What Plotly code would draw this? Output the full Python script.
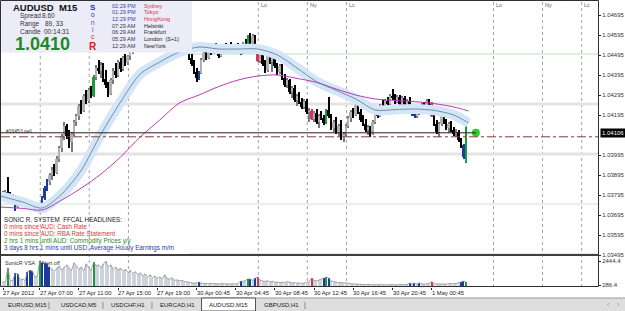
import plotly.graph_objects as go

FONT = "Liberation Sans"
W, H = 625, 311
PL, PR, PT, PB = 1, 598, 2, 287          # plot area in pixels
MAIN_BOTTOM, SUB_TOP = 255, 257
BAR_PX, FIRST_BAR_PX = 2.45, 3.0

BASE, POINT = 1.03, 1e-5                 # prices stored as points above 1.03000

# ---------------- data ----------------
opens = [800, 790, 810, 800, 780, 790, 735, 752, 748, 752,
         750, 742, 746, 740, 744, 722, 735, 780, 830, 860,
         895, 920, 905, 975, 1030, 1090, 1140, 1090, 1060, 1100,
         1160, 1190, 1240, 1215, 1290, 1265, 1320, 1290, 1385, 1430,
         1415, 1445, 1375, 1345, 1300, 1370, 1415, 1395, 1460, 1425,
         1480, 1455, 1490, 1515, 1560, 1580, 1570, 1610, 1595, 1580,
         1560, 1585, 1615, 1625, 1600, 1575, 1590, 1605, 1585, 1565,
         1580, 1570, 1550, 1565, 1545, 1530, 1515, 1480, 1450, 1410,
         1380, 1405, 1470, 1505, 1480, 1530, 1505, 1540, 1520, 1490,
         1525, 1540, 1515, 1535, 1525, 1510, 1540, 1515, 1505, 1550,
         1525, 1585, 1555, 1590, 1530, 1465, 1500, 1450, 1420, 1490,
         1460, 1480, 1440, 1410, 1440, 1380, 1345, 1370, 1310, 1330,
         1270, 1290, 1260, 1235, 1265, 1210, 1215, 1175, 1205, 1160,
         1190, 1180, 1155, 1218, 1190, 1130, 1160, 1110, 1140, 1080,
         1100, 1140, 1180, 1210, 1195, 1245, 1210, 1170, 1150, 1120,
         1135, 1100, 1160, 1200, 1190, 1240, 1230, 1265, 1250, 1290,
         1280, 1260, 1285, 1250, 1280, 1235, 1265, 1210, 1225, 1190,
         1205, 1220, 1245, 1235, 1265, 1255, 1190, 1150, 1110, 1150,
         1195, 1160, 1130, 1150, 1120, 1100, 1110, 1070, 1045, 985]
highs = [815, 820, 885, 810, 800, 795, 756, 758, 756, 758,
         754, 750, 750, 746, 748, 740, 790, 840, 875, 905,
         935, 950, 990, 1040, 1100, 1160, 1150, 1120, 1110, 1170,
         1200, 1250, 1270, 1300, 1320, 1330, 1340, 1395, 1445, 1470,
         1460, 1455, 1420, 1360, 1380, 1430, 1455, 1470, 1480, 1490,
         1500, 1495, 1530, 1570, 1590, 1600, 1620, 1630, 1615, 1600,
         1590, 1625, 1640, 1635, 1610, 1600, 1615, 1620, 1600, 1590,
         1600, 1585, 1575, 1580, 1560, 1545, 1520, 1500, 1470, 1430,
         1415, 1480, 1520, 1525, 1540, 1545, 1545, 1555, 1535, 1530,
         1550, 1555, 1545, 1560, 1540, 1545, 1555, 1525, 1560, 1575,
         1595, 1607, 1600, 1595, 1535, 1510, 1510, 1470, 1500, 1505,
         1490, 1500, 1455, 1450, 1450, 1400, 1380, 1375, 1340, 1345,
         1300, 1310, 1280, 1275, 1275, 1230, 1225, 1215, 1225, 1200,
         1215, 1195, 1225, 1285, 1200, 1170, 1185, 1150, 1170, 1110,
         1150, 1190, 1220, 1230, 1260, 1255, 1225, 1195, 1175, 1145,
         1140, 1170, 1210, 1230, 1250, 1270, 1275, 1285, 1300, 1325,
         1300, 1295, 1295, 1290, 1290, 1275, 1285, 1235, 1240, 1215,
         1230, 1255, 1260, 1275, 1275, 1262, 1200, 1170, 1160, 1205,
         1200, 1175, 1160, 1165, 1135, 1125, 1120, 1080, 1050, 1145]
lows = [775, 780, 790, 770, 760, 715, 732, 745, 744, 746,
        738, 736, 737, 734, 718, 705, 725, 770, 815, 845,
        870, 890, 900, 960, 1010, 1070, 1075, 1030, 1010, 1090,
        1140, 1170, 1200, 1210, 1250, 1255, 1280, 1285, 1370, 1400,
        1380, 1360, 1330, 1285, 1295, 1350, 1380, 1385, 1410, 1415,
        1440, 1445, 1470, 1500, 1540, 1555, 1560, 1585, 1570, 1550,
        1545, 1575, 1600, 1590, 1565, 1560, 1580, 1580, 1555, 1550,
        1565, 1540, 1535, 1540, 1520, 1505, 1470, 1440, 1400, 1360,
        1370, 1400, 1460, 1470, 1475, 1495, 1500, 1510, 1480, 1485,
        1515, 1505, 1505, 1520, 1500, 1505, 1510, 1495, 1500, 1515,
        1520, 1545, 1540, 1520, 1460, 1455, 1440, 1405, 1410, 1450,
        1410, 1430, 1395, 1400, 1370, 1335, 1330, 1300, 1280, 1260,
        1240, 1250, 1225, 1225, 1200, 1160, 1170, 1160, 1150, 1130,
        1170, 1145, 1150, 1180, 1120, 1110, 1100, 1090, 1070, 1060,
        1090, 1130, 1160, 1180, 1190, 1200, 1160, 1140, 1110, 1095,
        1085, 1095, 1150, 1180, 1185, 1220, 1225, 1240, 1245, 1270,
        1250, 1255, 1240, 1240, 1225, 1220, 1200, 1190, 1180, 1180,
        1195, 1215, 1225, 1230, 1240, 1185, 1140, 1100, 1085, 1140,
        1150, 1120, 1105, 1110, 1090, 1085, 1060, 1030, 975, 955]
closes = [790, 810, 800, 780, 790, 735, 752, 748, 752, 750,
          742, 746, 740, 744, 722, 735, 780, 830, 860, 895,
          920, 905, 975, 1030, 1090, 1140, 1090, 1060, 1100, 1160,
          1190, 1240, 1215, 1290, 1265, 1320, 1290, 1385, 1430, 1415,
          1445, 1375, 1345, 1300, 1370, 1415, 1395, 1460, 1425, 1480,
          1455, 1490, 1515, 1560, 1580, 1570, 1610, 1595, 1580, 1560,
          1585, 1615, 1625, 1600, 1575, 1590, 1605, 1585, 1565, 1580,
          1570, 1550, 1565, 1545, 1530, 1515, 1480, 1450, 1410, 1380,
          1405, 1470, 1505, 1480, 1530, 1505, 1540, 1520, 1490, 1525,
          1540, 1515, 1535, 1525, 1510, 1540, 1515, 1505, 1550, 1525,
          1585, 1555, 1590, 1530, 1465, 1500, 1450, 1420, 1490, 1460,
          1480, 1440, 1410, 1440, 1380, 1345, 1370, 1310, 1330, 1270,
          1290, 1260, 1235, 1265, 1210, 1215, 1175, 1205, 1160, 1190,
          1180, 1155, 1218, 1190, 1130, 1160, 1110, 1140, 1080, 1100,
          1140, 1180, 1210, 1195, 1245, 1210, 1170, 1150, 1120, 1135,
          1100, 1160, 1200, 1190, 1240, 1230, 1265, 1250, 1290, 1280,
          1260, 1285, 1250, 1280, 1235, 1265, 1210, 1225, 1190, 1205,
          1220, 1245, 1235, 1265, 1255, 1190, 1150, 1110, 1150, 1195,
          1160, 1130, 1150, 1120, 1100, 1110, 1070, 1045, 985, 1106]

candle_blue = [5, 15, 16, 17, 18, 80, 97, 167, 168, 170, 188]
candle_green = [37, 100, 132, 189]
candle_red = [104, 126, 175]

volume = [520, 600, 1800, 640, 700, 1350, 1300, 760, 820, 700,
          1500, 1600, 1550, 1000, 1100, 2450, 2300, 2250, 2200, 1900,
          1700, 1500, 1800, 2000, 1600, 1900, 2100, 1800, 1600, 2300,
          2000, 1700, 1900, 1500, 2200, 1800, 1600, 2350, 2000, 2100,
          1800, 2200, 2400, 1900, 2100, 1700, 1900, 1600, 1800, 1500,
          1700, 1400, 1600, 1300, 1500, 1200, 1400, 1100, 1300, 1000,
          1200, 950, 1100, 900, 1000, 850, 1200, 900, 800, 950,
          700, 750, 650, 700, 600, 550, 500, 480, 450, 470,
          560, 440, 420, 450, 400, 430, 390, 410, 380, 400,
          420, 370, 390, 360, 400, 380, 420, 650, 600, 700,
          850, 800, 700, 900, 1000, 700, 650, 600, 680, 560,
          620, 520, 560, 500, 540, 480, 600, 520, 460, 500,
          440, 480, 420, 460, 500, 600, 900, 700, 650, 750,
          800, 950, 1000, 900, 650, 600, 550, 500, 520, 460,
          480, 420, 400, 380, 360, 400, 350, 330, 320, 340,
          310, 300, 320, 300, 310, 290, 300, 320, 300, 330,
          310, 300, 340, 320, 300, 350, 450, 380, 450, 360,
          480, 380, 350, 400, 420, 600, 420, 380, 360, 400,
          380, 360, 420, 380, 400, 430, 500, 560, 620, 580]
vol_blue = [5, 6, 10, 11, 12, 16, 17, 18, 19, 80, 97, 101, 103, 131, 133, 166, 168, 170, 187, 188]
vol_green = [2, 15, 37, 100, 132, 189]
vol_red = [104, 126, 175]

ma_bars = [-1, 8, 16, 24, 32, 40, 48, 56, 64, 72, 80, 88, 96, 104, 112, 120,
           128, 136, 144, 152, 160, 168, 176, 184, 190]
ema34 = [790, 760, 730, 800, 920, 1100, 1260, 1400, 1460, 1510, 1535, 1525, 1525,
         1525, 1495, 1430, 1362, 1318, 1275, 1220, 1222, 1225, 1218, 1195, 1155]
ema89 = [735, 728, 720, 770, 830, 900, 985, 1085, 1170, 1255, 1295, 1337, 1370,
         1390, 1395, 1378, 1358, 1325, 1295, 1275, 1268, 1262, 1252, 1235, 1215]

price_ticks = [1.04695, 1.04595, 1.04495, 1.04395, 1.04295, 1.04195,
               1.03995, 1.03895, 1.03795, 1.03695, 1.03595, 1.03495]
vol_ticks = [2444.4, 286.4]
time_label_bars = [0, 15, 31, 47, 63, 79, 95, 111, 127, 143, 159, 175]
time_labels = ["27 Apr 2012", "27 Apr 07:00", "27 Apr 11:00", "27 Apr 15:00",
               "27 Apr 19:00", "30 Apr 00:45", "30 Apr 04:45", "30 Apr 08:45",
               "30 Apr 12:45", "30 Apr 16:45", "30 Apr 20:45", "1 May 00:45"]
session_names = ["Lo", "Ny", "Lc", "Lo", "Ny", "Lc", "Lo", "Ny", "Lc"]
session_bars = [15.2, 35.2, 51.2, 104.2, 124.2, 140.2, 200.2, 220.2, 236.2]
quarter_levels = [1.0450, 1.0425, 1.0400, 1.0375, 1.0350]
day_start_bar = 76
order_price = 1.04086
order_label = "#16453 sell"

symbol, timeframe = "AUDUSD", "M15"
info_rows = [("Spread", "8.60"), ("Range", "89, 33"), ("Candle", "00:14:31")]
big_price = "1.0410"
clock_times = ["02:29 PM", "01:29 PM", "12:29 PM", "07:29 AM", "06:29 AM", "05:29 AM", "12:29 AM"]
clock_cities = ["Sydney", "Tokyo", "HongKong", "Helsinki", "Frankfurt", "London  (S+1)", "NewYork"]
headlines = ["SONIC R. SYSTEM  FFCAL HEADLINES:",
             "0 mins since AUD: Cash Rate",
             "0 mins since AUD: RBA Rate Statement",
             "2 hrs 1 mins until AUD: Commodity Prices y/y",
             "3 days 8 hrs 1 mins until USD: Average Hourly Earnings m/m"]
tabs = ["EURUSD,M15", "USDCAD,M5", "USDCHF,H1", "EURCAD,H1", "AUDUSD,M15", "GBPUSD,H1"]
active_tab = "AUDUSD,M15"

# ---------------- helpers ----------------
def p(v):
    return round(BASE + v * POINT, 5)

def px(x):
    return (x - PL) / (PR - PL)

def py(y):
    return (PB - y) / (PB - PT)

n = len(closes)
bars = list(range(n))
C_BULL, C_BULL_W = "#b0b0b0", "#7a7a7a"
C_BEAR = "#000000"
C_BLUE, C_GREEN, C_RED = "#1b3c9e", "#1e9a3c", "#d8345a"

body_col, wick_col = [], []
for i in bars:
    if i in candle_blue:
        c = w = C_BLUE
    elif i in candle_green:
        c = w = C_GREEN
    elif i in candle_red:
        c = w = C_RED
    elif closes[i] >= opens[i]:
        c, w = C_BULL, C_BULL_W
    else:
        c = w = C_BEAR
    body_col.append(c)
    wick_col.append(w)

vol_col = []
for i in bars:
    if i in vol_blue:
        vol_col.append(C_BLUE)
    elif i in vol_green:
        vol_col.append(C_GREEN)
    elif i in vol_red:
        vol_col.append(C_RED)
    else:
        vol_col.append("#cdd2db")

fig = go.Figure()

# moving averages (Sonic R dragon + EMA89)
fig.add_trace(go.Scatter(x=ma_bars, y=[p(v) for v in ema34], mode="lines",
                         line=dict(color="#d3e6f8", width=10, shape="spline", smoothing=0.8),
                         hoverinfo="skip"))
fig.add_trace(go.Scatter(x=ma_bars, y=[p(v) for v in ema89], mode="lines",
                         line=dict(color="#b83ab8", width=1, shape="spline", smoothing=0.8),
                         hoverinfo="skip"))
fig.add_trace(go.Scatter(x=ma_bars, y=[p(v) for v in ema34], mode="lines",
                         line=dict(color="#62728a", width=0.8, shape="spline", smoothing=0.8),
                         hoverinfo="skip"))

# candles: wicks then bodies
fig.add_trace(go.Bar(x=bars, base=[p(v) for v in lows],
                     y=[round((highs[i] - lows[i]) * POINT, 6) for i in bars],
                     width=0.42, marker=dict(color=wick_col, line=dict(width=0)),
                     hoverinfo="skip"))
fig.add_trace(go.Bar(x=bars, base=[p(min(opens[i], closes[i])) for i in bars],
                     y=[max(abs(closes[i] - opens[i]), 3) * POINT for i in bars],
                     width=0.8, marker=dict(color=body_col, line=dict(width=0)),
                     hoverinfo="skip"))

# current price marker
last_x = bars[-1] + 4
fig.add_trace(go.Scatter(x=[last_x], y=[p(closes[-1])], mode="markers",
                         marker=dict(color="#2ecc2e", size=8), hoverinfo="skip"))

# volume panel
fig.add_trace(go.Bar(x=bars, y=volume, yaxis="y2", width=0.5,
                     marker=dict(color=vol_col, line=dict(width=0)), hoverinfo="skip"))
fig.add_trace(go.Scatter(x=bars, y=volume, yaxis="y2", mode="lines",
                         line=dict(color="#8e8e8e", width=0.8), hoverinfo="skip"))

x_lo = (PL - FIRST_BAR_PX) / BAR_PX
x_hi = (PR - FIRST_BAR_PX) / BAR_PX

shapes = []
lvl_style = {1.0450: ("#b9e2b9", 1, day_start_bar), 1.0425: ("#e4e4e4", 3, x_lo),
             1.0400: ("#e4e4e4", 3, x_lo), 1.0375: ("#c8e8c8", 1, x_lo),
             1.0350: ("#b9e2b9", 1, day_start_bar)}
for lv in quarter_levels:
    col, wd, x0 = lvl_style[lv]
    shapes.append(dict(type="line", xref="x", yref="y", x0=x0, x1=x_hi, y0=lv, y1=lv,
                       line=dict(color=col, width=wd), layer="below"))
for sb in session_bars:
    shapes.append(dict(type="line", xref="x", yref="paper", x0=sb, x1=sb, y0=0, y1=1,
                       line=dict(color="#a4a4a4", width=1, dash="dot"), layer="below"))
shapes.append(dict(type="line", xref="x", yref="y", x0=x_lo, x1=last_x,
                   y0=p(closes[-1]), y1=p(closes[-1]), line=dict(color="#202020", width=1)))
shapes.append(dict(type="line", xref="x", yref="y", x0=x_lo, x1=x_hi,
                   y0=order_price, y1=order_price,
                   line=dict(color="#8a3a3a", width=1, dash="dashdot")))
shapes.append(dict(type="rect", xref="paper", yref="paper", x0=px(0), x1=px(192),
                   y0=py(52.5), y1=py(0), fillcolor="#ececf8", line=dict(width=0), layer="above"))
shapes.append(dict(type="rect", xref="paper", yref="paper", x0=px(0.5), x1=px(598.5),
                   y0=py(286.5), y1=py(0.5), line=dict(color="#303030", width=1)))
shapes.append(dict(type="line", xref="paper", yref="paper", x0=px(0.5), x1=px(598.5),
                   y0=py(255), y1=py(255), line=dict(color="#404040", width=2)))
shapes.append(dict(type="rect", xref="paper", yref="paper", x0=px(-2), x1=px(628),
                   y0=py(312), y1=py(298), fillcolor="#dedede", line=dict(width=0)))
shapes.append(dict(type="line", xref="paper", yref="paper", x0=px(-2), x1=px(628),
                   y0=py(298), y1=py(298), line=dict(color="#9a9a9a", width=1)))
shapes.append(dict(type="rect", xref="paper", yref="paper", x0=px(201.5), x1=px(255.5),
                   y0=py(311), y1=py(298), fillcolor="#ffffff",
                   line=dict(color="#555555", width=1)))

ann = []

def txt(x, y, s, size=6, color="#222222", bold=False, anchor="left", valign="middle"):
    ann.append(dict(x=px(x), y=py(y), xref="paper", yref="paper", showarrow=False,
                    text=("<b>%s</b>" % s) if bold else s, xanchor=anchor, yanchor=valign,
                    borderpad=0, font=dict(family=FONT, size=size, color=color)))

# info panel texts
txt(12, 7, "%s  %s" % (symbol, timeframe), size=9.5, color="#111111", bold=True)
for k, (lab, val) in enumerate(info_rows):
    yy = 15.7 + k * 8
    txt(19, yy, lab, size=6.5, color="#333333")
    txt([40.5, 44, 43][k], yy, val, size=6.5, color="#333333")
txt(14, 43.5, big_price, size=18, color="#1f8a2a", bold=True)
sonic_letters = ["S", "o", "n", "i", "c"]
sonic_cols = ["#2436c4", "#2436c4", "#6a4fb4", "#a0407a", "#cc2a2a"]
sonic_sizes = [8, 7, 7, 7, 7]
sonic_txt = "<br>".join(
    "<span style='color:%s;font-size:%dpx;font-weight:%s'>%s</span>"
    % (c, s, "bold" if ch == "S" else "normal", ch)
    for ch, c, s in zip(sonic_letters, sonic_cols, sonic_sizes))
ann.append(dict(x=px(93), y=py(1.5), xref="paper", yref="paper", showarrow=False,
                text=sonic_txt, xanchor="center", yanchor="top", borderpad=0, align="center",
                font=dict(family=FONT, size=5.6, color="#2436c4")))
txt(93, 46, "R", size=10, color="#cc2222", bold=True, anchor="center")
for k, (t, c) in enumerate(zip(clock_times, clock_cities)):
    yy = 5.7 + k * 6.67
    txt(111, yy, t, size=5.5, color="#3340b0" if k < 3 else "#333344")
    txt(143, yy, c, size=5.5, color="#cc3344" if k < 3 else "#222222")

head_cols = ["#222222", "#d23c3c", "#d23c3c", "#2a8a2a", "#2a3fa0"]
for k, h in enumerate(headlines):
    txt(3, 219.3 + k * 7.1, h, size=6.3, color=head_cols[k])

txt(5, 130.5, order_label, size=5, color="#333333")

txt(4, 263, "SonicR VSA", size=5.5, color="#333333")
txt(40, 263, "Alert off", size=5.5, color="#333333")

for nm, sb in zip(session_names, session_bars):
    if sb > 80:
        ann.append(dict(x=sb, y=py(5), xref="x", yref="paper", showarrow=False, text=nm,
                        xanchor="left", yanchor="middle", xshift=1.5, borderpad=0,
                        font=dict(family=FONT, size=5.5, color="#666666")))

for tb, tl in zip(time_label_bars, time_labels):
    ann.append(dict(x=tb, y=py(293), xref="x", yref="paper", showarrow=False, text=tl,
                    xanchor="left", yanchor="middle", xshift=-1, borderpad=0,
                    font=dict(family=FONT, size=5.8, color="#222222")))

ann.append(dict(x=1, y=p(closes[-1]), xref="paper", yref="y", showarrow=False,
                text="%.5f" % p(closes[-1]), xanchor="left", yanchor="middle", xshift=2,
                bgcolor="#000000", borderpad=1,
                font=dict(family=FONT, size=6, color="#ffffff")))

tab_x = [7, 60, 110, 159, 208, 263]
for t, x in zip(tabs, tab_x):
    txt(x, 304.5, t, size=6, color="#222222")
for sx in [49, 103, 152, 305]:
    txt(sx, 304.5, "|", size=7, color="#555555", anchor="center")
txt(608, 304.5, "‹", size=7, color="#999999", anchor="center")
txt(618, 304.5, "›", size=7, color="#999999", anchor="center")

main_dom = [py(MAIN_BOTTOM), 1.0]
sub_dom = [0.0, py(SUB_TOP)]
y_top = 1.04695 + (15 - PT) / 20000
y_bot = 1.04695 - (MAIN_BOTTOM - 15) / 20000
vpp = (2444.4 - 286.4) / (285 - 261)
v_top = 2444.4 + (261 - SUB_TOP) * vpp
v_bot = 286.4 - (PB - 285) * vpp

fig.update_layout(
    width=W, height=H, margin=dict(l=PL, r=W - PR, t=PT, b=H - PB),
    paper_bgcolor="#ffffff", plot_bgcolor="#ffffff", showlegend=False,
    barmode="overlay", bargap=0,
    xaxis=dict(range=[x_lo, x_hi], domain=[0, 1], anchor="y2", showgrid=False,
               zeroline=False, showticklabels=False, ticks="outside", ticklen=2,
               tickcolor="#222222", tickvals=time_label_bars, showline=False),
    yaxis=dict(domain=main_dom, range=[y_bot, y_top], side="right", anchor="x",
               showgrid=False, zeroline=False, tickvals=price_ticks,
               ticktext=["%.5f" % t for t in price_ticks], ticks="outside", ticklen=2,
               tickcolor="#222222", tickfont=dict(family=FONT, size=6, color="#333333")),
    yaxis2=dict(domain=sub_dom, range=[v_bot, v_top], side="right", anchor="x",
                showgrid=False, zeroline=False, tickvals=vol_ticks,
                ticktext=["2444.4", "286.4"], ticks="outside", ticklen=2,
                tickcolor="#222222", tickfont=dict(family=FONT, size=6, color="#333333")),
    shapes=shapes, annotations=ann,
)

fig.write_html("out.html")
